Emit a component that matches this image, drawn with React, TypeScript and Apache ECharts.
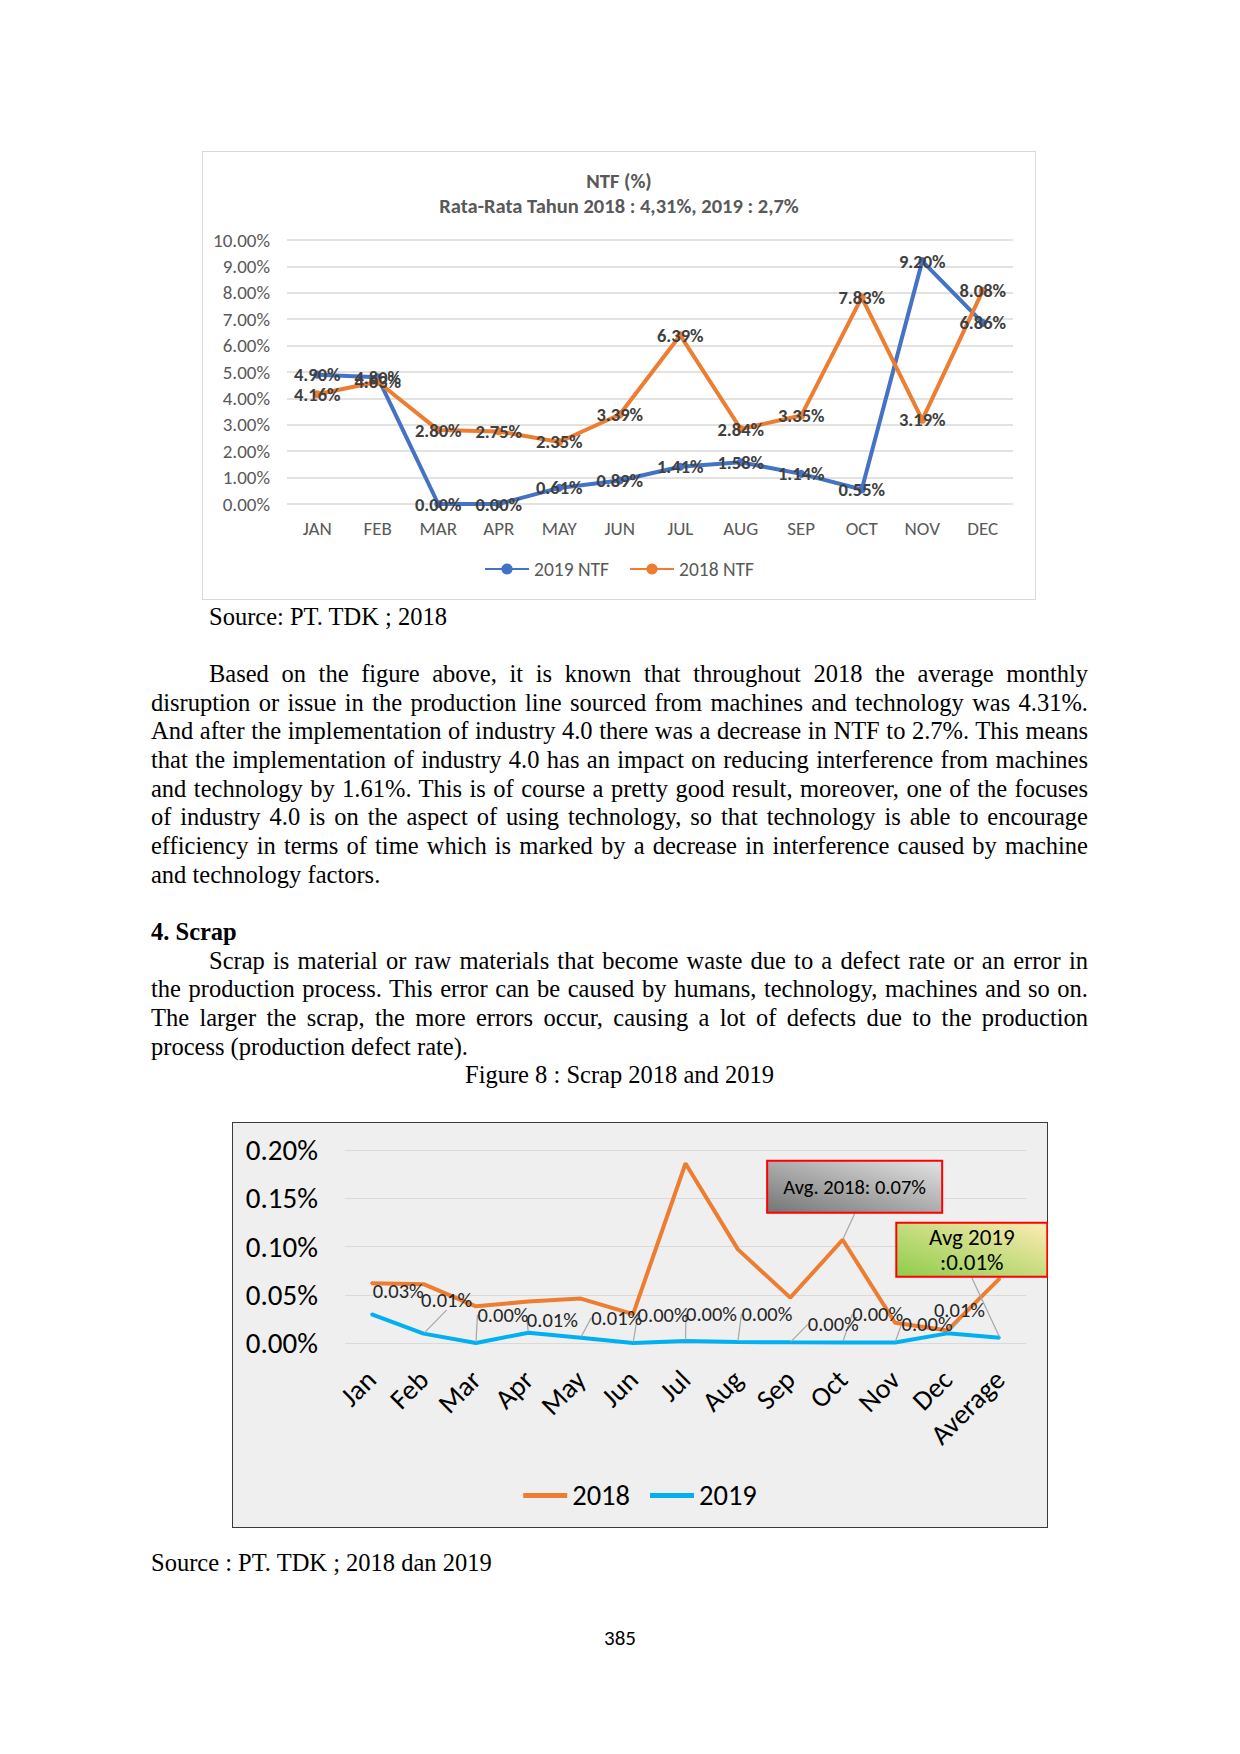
import { useEffect, useRef } from 'react';
import * as echarts from 'echarts';

// ---- chart data ----
const ntfMonths = ['JAN', 'FEB', 'MAR', 'APR', 'MAY', 'JUN', 'JUL', 'AUG', 'SEP', 'OCT', 'NOV', 'DEC'];
const ntf2019 = [4.9, 4.8, 0, 0, 0.61, 0.89, 1.41, 1.58, 1.14, 0.55, 9.2, 6.86];
const ntf2018 = [4.16, 4.63, 2.8, 2.75, 2.35, 3.39, 6.39, 2.84, 3.35, 7.83, 3.19, 8.08];

const scrapCategories = ['Jan', 'Feb', 'Mar', 'Apr', 'May', 'Jun', 'Jul', 'Aug', 'Sep', 'Oct', 'Nov', 'Dec', 'Average'];
const scrap2018 = [0.062, 0.061, 0.038, 0.043, 0.046, 0.03, 0.186, 0.097, 0.047, 0.107, 0.021, 0.013, 0.067];
const scrap2019 = [0.03, 0.0097, 0, 0.0107, 0.0055, 0, 0.002, 0.001, 0.0007, 0.0006, 0.0006, 0.01, 0.0055];
const avg2018Text = 'Avg. 2018: 0.07%';
const avg2019Text = 'Avg 2019\n:0.01%';

// ---- page text ----
const para1 = [
  'Based on the figure above, it is known that throughout 2018 the average monthly',
  'disruption or issue in the production line sourced from machines and technology was 4.31%.',
  'And after the implementation of industry 4.0 there was a decrease in NTF to 2.7%. This means',
  'that the implementation of industry 4.0 has an impact on reducing interference from machines',
  'and technology by 1.61%. This is of course a pretty good result, moreover, one of the focuses',
  'of industry 4.0 is on the aspect of using technology, so that technology is able to encourage',
  'efficiency in terms of time which is marked by a decrease in interference caused by machine',
  'and technology factors.',
];
const para2 = [
  'Scrap is material or raw materials that become waste due to a defect rate or an error in',
  'the production process. This error can be caused by humans, technology, machines and so on.',
  'The larger the scrap, the more errors occur, causing a lot of defects due to the production',
  'process (production defect rate).',
];

const serif = "'Liberation Serif', 'Times New Roman', serif";
const sans = "Carlito, Lato, 'Open Sans', sans-serif";
const LH = 28.7;
const FS = 24.5;
const TEXT_LEFT = 151;
const TEXT_WIDTH = 937;

// label offsets (dx, dy) for the 2019 scrap labels, Jan..Average
const scrapLabelMoves = [
  [27, -23], [23, -34], [27, -28], [24, -13], [36, -20], [30, -28], [26, -27],
  [29, -28], [43, -18], [35, -28], [32, -18], [12, -23], [-28, -88],
];

function NtfChart() {
  const ref = useRef<HTMLDivElement | null>(null);
  useEffect(() => {
    if (!ref.current) return;
    const chart = echarts.init(ref.current, null, { renderer: 'svg' });
    const labelStyle = { show: true, position: 'inside', fontSize: 18.5, fontWeight: 'bold', color: '#404040', fontFamily: sans };
    const titleStyle = { fontSize: 20.5, fontWeight: 'bold', color: '#595959', fontFamily: sans };
    chart.setOption({
      animation: false,
      textStyle: { fontFamily: sans },
      title: [
        { text: 'NTF (%)', left: 'center', top: 14, textStyle: titleStyle },
        { text: 'Rata-Rata Tahun 2018 : 4,31%, 2019 : 2,7%', left: 'center', top: 39, textStyle: titleStyle },
      ],
      legend: {
        left: 'center',
        top: 403,
        itemWidth: 44,
        itemHeight: 14,
        itemGap: 20,
        textStyle: { fontSize: 19.5, color: '#595959', fontFamily: sans },
        data: ['2019 NTF', '2018 NTF'],
      },
      grid: { left: 85, right: 23, top: 89, bottom: 96 },
      xAxis: {
        type: 'category',
        data: ntfMonths,
        axisLine: { show: false },
        axisTick: { show: false },
        axisLabel: { margin: 15, fontSize: 19, color: '#595959', fontFamily: sans },
      },
      yAxis: {
        type: 'value',
        min: 0,
        max: 10,
        interval: 1,
        axisLabel: { margin: 17, fontSize: 19, color: '#595959', fontFamily: sans, formatter: (v: number) => v.toFixed(2) + '%' },
        splitLine: { lineStyle: { color: '#d9d9d9', width: 1.5 } },
      },
      series: [
        {
          name: '2019 NTF',
          type: 'line',
          data: ntf2019,
          symbol: 'circle',
          symbolSize: 8,
          lineStyle: { color: '#4472c4', width: 4 },
          itemStyle: { color: '#4472c4' },
          label: { ...labelStyle, formatter: (p: any) => p.value.toFixed(2) + '%' },
        },
        {
          name: '2018 NTF',
          type: 'line',
          data: ntf2018,
          symbol: 'circle',
          symbolSize: 8,
          lineStyle: { color: '#ed7d31', width: 4 },
          itemStyle: { color: '#ed7d31' },
          label: { ...labelStyle, formatter: (p: any) => p.value.toFixed(2) + '%' },
        },
      ],
    });
    return () => chart.dispose();
  }, []);
  return (
    <div style={{ position: 'absolute', left: 202, top: 151, width: 834, height: 449, border: '1.5px solid #d9d9d9', boxSizing: 'border-box', background: '#fff' }}>
      <div ref={ref} style={{ position: 'absolute', left: -1.5, top: -1.5, width: 834, height: 449 }} />
    </div>
  );
}

function ScrapChart() {
  const ref = useRef<HTMLDivElement | null>(null);
  useEffect(() => {
    if (!ref.current) return;
    const chart = echarts.init(ref.current, null, { renderer: 'svg' });
    const guide = { show: true, lineStyle: { color: '#a6a6a6', width: 1.2 } };
    const lastIndex = scrap2019.length - 1;
    const data2019 = scrap2019.map((v, i) => {
      if (i === 0) return { value: v, labelLine: { show: false } };
      if (i === lastIndex) {
        return {
          value: v,
          label: {
            show: true,
            formatter: avg2019Text,
            fontSize: 23,
            lineHeight: 25,
            color: '#000',
            width: 149,
            height: 52,
            padding: 0,
            align: 'center',
            verticalAlign: 'middle',
            borderColor: '#ff0000',
            borderWidth: 2,
            backgroundColor: new echarts.graphic.LinearGradient(0, 1, 1, 0, [
              { offset: 0, color: '#8fcd4b' },
              { offset: 1, color: '#fdebb3' },
            ]),
          },
        };
      }
      return v;
    });
    const data2018 = scrap2018.map((v, i) => {
      if (i !== 9) return v;
      return {
        value: v,
        label: {
          show: true,
          formatter: avg2018Text,
          fontSize: 20.5,
          color: '#000',
          width: 173,
          height: 50,
          padding: 0,
          align: 'center',
          verticalAlign: 'middle',
          borderColor: '#ff0000',
          borderWidth: 2,
          backgroundColor: new echarts.graphic.LinearGradient(0, 1, 1, 0, [
            { offset: 0, color: '#767676' },
            { offset: 1, color: '#e2e2e2' },
          ]),
        },
      };
    });
    chart.setOption({
      animation: false,
      textStyle: { fontFamily: sans },
      legend: {
        left: 'center',
        top: 354,
        icon: 'rect',
        itemWidth: 44,
        itemHeight: 5,
        itemGap: 20,
        textStyle: { fontSize: 28.5, color: '#000', fontFamily: sans },
        data: ['2018', '2019'],
      },
      grid: { left: 113, right: 22, top: 28, bottom: 185 },
      xAxis: {
        type: 'category',
        data: scrapCategories,
        axisLine: { show: false },
        axisTick: { show: false },
        axisLabel: { rotate: 45, interval: 0, margin: 32, fontSize: 28, color: '#000', fontFamily: sans },
      },
      yAxis: {
        type: 'value',
        min: 0,
        max: 0.2,
        interval: 0.05,
        axisLabel: { margin: 27, fontSize: 29, color: '#000', fontFamily: sans, formatter: (v: number) => v.toFixed(2) + '%' },
        splitLine: { lineStyle: { color: '#d9d9d9', width: 1.2 } },
      },
      series: [
        {
          name: '2018',
          type: 'line',
          data: data2018,
          symbol: 'circle',
          symbolSize: 2,
          lineStyle: { color: '#ed7d31', width: 4 },
          itemStyle: { color: '#ed7d31' },
          label: { show: false, position: 'inside' },
          labelLine: guide,
          labelLayout: (p: any) => (p.dataIndex === 9 ? { dx: 12, dy: -53 } : {}),
          z: 2,
        },
        {
          name: '2019',
          type: 'line',
          data: data2019,
          symbol: 'circle',
          symbolSize: 2,
          lineStyle: { color: '#00b0f0', width: 4 },
          itemStyle: { color: '#00b0f0' },
          label: {
            show: true,
            position: 'inside',
            fontSize: 20.5,
            color: '#262626',
            fontFamily: sans,
            formatter: (p: any) => p.value.toFixed(2) + '%',
          },
          labelLine: guide,
          labelLayout: (p: any) => {
            const m = scrapLabelMoves[p.dataIndex];
            return m ? { dx: m[0], dy: m[1] } : {};
          },
          z: 3,
        },
      ],
    });
    return () => chart.dispose();
  }, []);
  return (
    <div style={{ position: 'absolute', left: 232, top: 1122, width: 816, height: 406, border: '1px solid #3a3a3a', boxSizing: 'border-box', background: '#efefef' }}>
      <div ref={ref} style={{ position: 'absolute', left: -1, top: -1, width: 816, height: 406 }} />
    </div>
  );
}

function Lines({ lines, top, indent }: { lines: string[]; top: number; indent: number }) {
  return (
    <div style={{ position: 'absolute', left: TEXT_LEFT, top, width: TEXT_WIDTH }}>
      {lines.map((line, i) => (
        <div
          key={i}
          style={{
            height: LH,
            lineHeight: `${LH}px`,
            textAlign: 'justify',
            textAlignLast: i === lines.length - 1 ? 'left' : 'justify',
            paddingLeft: i === 0 ? indent : 0,
            whiteSpace: 'nowrap',
          }}
        >
          {line}
        </div>
      ))}
    </div>
  );
}

export default function App() {
  return (
    <div style={{ position: 'absolute', left: 0, top: 0, width: 1240, height: 1754, background: '#fff', fontFamily: serif, fontSize: FS, color: '#000', overflow: 'hidden' }}>
      <NtfChart />
      <div style={{ position: 'absolute', left: 209, top: 603, lineHeight: `${LH}px` }}>Source: PT. TDK ; 2018</div>
      <Lines lines={para1} top={660} indent={58} />
      <div style={{ position: 'absolute', left: TEXT_LEFT, top: 918, lineHeight: `${LH}px`, fontWeight: 'bold' }}>4. Scrap</div>
      <Lines lines={para2} top={946.7} indent={58} />
      <div style={{ position: 'absolute', left: TEXT_LEFT, top: 1061.4, width: TEXT_WIDTH, textAlign: 'center', lineHeight: `${LH}px` }}>
        Figure 8 : Scrap 2018 and 2019
      </div>
      <ScrapChart />
      <div style={{ position: 'absolute', left: TEXT_LEFT, top: 1549, lineHeight: `${LH}px` }}>Source : PT. TDK ; 2018 dan 2019</div>
      <div style={{ position: 'absolute', left: 0, width: 1240, top: 1626, textAlign: 'center', fontFamily: sans, fontSize: 21, lineHeight: '24px' }}>385</div>
    </div>
  );
}
